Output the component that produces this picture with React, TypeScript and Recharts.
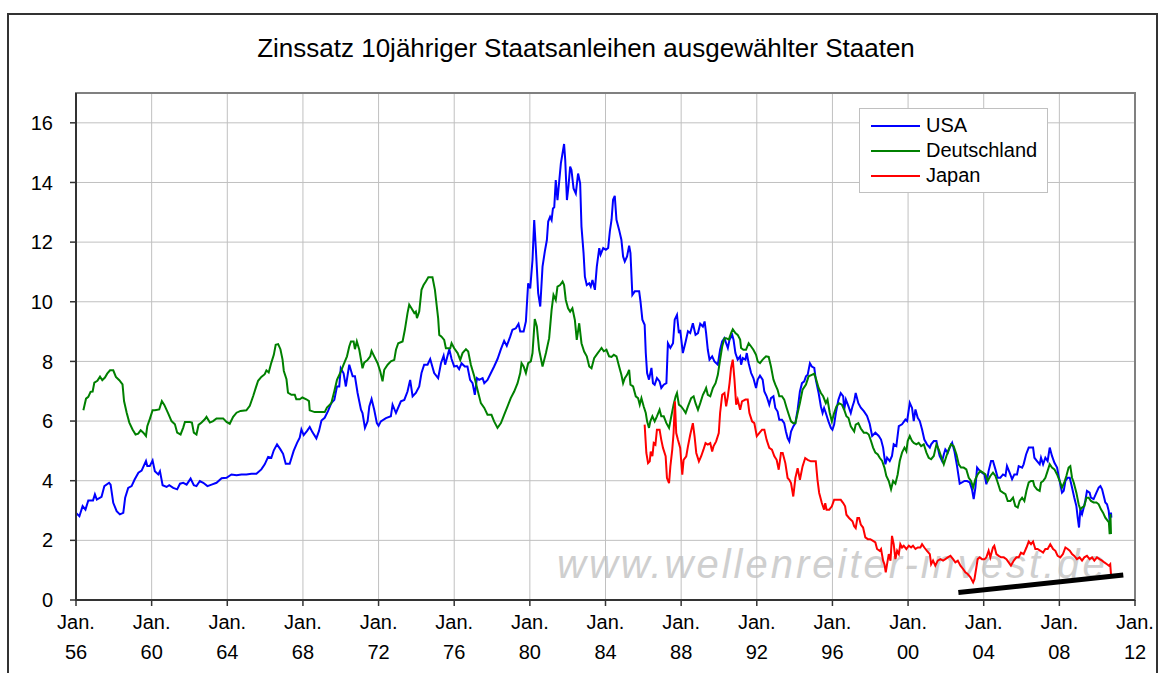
import React from 'react';
import { LineChart, Line, XAxis, YAxis, CartesianGrid, ReferenceArea } from 'recharts';

const TITLE = 'Zinssatz 10jähriger Staatsanleihen ausgewählter Staaten';
const WATERMARK = 'www.wellenreiter-invest.de';
const xTicks = [1956, 1960, 1964, 1968, 1972, 1976, 1980, 1984, 1988, 1992, 1996, 2000, 2004, 2008, 2012];
const yTicks = [0, 2, 4, 6, 8, 10, 12, 14, 16];
const seriesNames = ['USA', 'Deutschland', 'Japan'];
const seriesColors = ['#0000ff', '#008000', '#ff0000'];

const usaPoints: [number, number][] = [
  [1956.0, 2.92], [1956.18, 2.81], [1956.35, 3.15], [1956.5, 3.03], [1956.65, 3.34], [1956.9, 3.34], [1957.0, 3.54],
  [1957.1, 3.37], [1957.35, 3.46], [1957.5, 3.82], [1957.75, 3.93], [1957.83, 3.87], [1957.97, 3.26], [1958.15, 2.98],
  [1958.32, 2.87], [1958.5, 2.92], [1958.6, 3.43], [1958.76, 3.76], [1958.94, 3.82], [1959.1, 4.04], [1959.3, 4.27],
  [1959.47, 4.34], [1959.7, 4.66], [1959.77, 4.49], [1959.9, 4.49], [1960.05, 4.68], [1960.17, 4.32], [1960.35, 4.21],
  [1960.44, 4.32], [1960.58, 3.85], [1960.79, 3.79], [1960.93, 3.85], [1961.14, 3.76], [1961.35, 3.71], [1961.5, 3.9],
  [1961.67, 3.93], [1961.85, 3.87], [1962.06, 4.07], [1962.23, 3.85], [1962.37, 3.82], [1962.55, 3.99], [1962.73, 3.93],
  [1962.95, 3.82], [1963.17, 3.87], [1963.43, 3.93], [1963.7, 4.08], [1963.96, 4.1], [1964.22, 4.21], [1964.49, 4.18],
  [1964.75, 4.21], [1965.01, 4.21], [1965.28, 4.23], [1965.54, 4.23], [1965.8, 4.38], [1965.98, 4.55], [1966.16, 4.8],
  [1966.33, 4.77], [1966.46, 5.02], [1966.63, 5.22], [1966.81, 5.05], [1966.95, 4.9], [1967.09, 4.57], [1967.3, 4.57],
  [1967.51, 5.0], [1967.69, 5.27], [1967.83, 5.44], [1967.92, 5.72], [1968.04, 5.53], [1968.22, 5.67], [1968.36, 5.8],
  [1968.5, 5.63], [1968.71, 5.42], [1968.85, 5.67], [1968.98, 6.02], [1969.15, 6.11], [1969.33, 6.34], [1969.5, 6.6],
  [1969.66, 6.71], [1969.8, 7.16], [1969.92, 7.16], [1970.0, 7.77], [1970.15, 7.6], [1970.27, 7.16], [1970.45, 7.89],
  [1970.63, 7.5], [1970.75, 7.5], [1970.89, 6.94], [1971.07, 6.38], [1971.15, 6.27], [1971.28, 5.77], [1971.42, 5.99],
  [1971.51, 6.49], [1971.63, 6.74], [1971.77, 6.38], [1971.91, 5.93], [1972.0, 5.84], [1972.12, 5.99], [1972.39, 6.1],
  [1972.65, 6.16], [1972.74, 6.55], [1972.92, 6.27], [1973.18, 6.66], [1973.36, 6.71], [1973.53, 6.99], [1973.67, 7.38],
  [1973.8, 6.83], [1973.97, 6.94], [1974.15, 7.16], [1974.27, 7.61], [1974.41, 7.89], [1974.59, 7.89], [1974.73, 8.08],
  [1974.94, 7.61], [1975.15, 7.44], [1975.3, 7.94], [1975.44, 8.19], [1975.52, 7.89], [1975.74, 8.41], [1975.86, 8.08],
  [1976.0, 7.83], [1976.14, 7.85], [1976.26, 7.74], [1976.39, 7.94], [1976.56, 7.83], [1976.7, 7.83], [1976.84, 7.38],
  [1976.97, 7.27], [1977.09, 6.88], [1977.2, 7.44], [1977.32, 7.38], [1977.5, 7.44], [1977.59, 7.27], [1977.76, 7.38],
  [1977.94, 7.61], [1978.11, 7.83], [1978.29, 8.08], [1978.47, 8.41], [1978.64, 8.69], [1978.78, 8.52], [1978.96, 8.83],
  [1979.08, 9.06], [1979.26, 9.11], [1979.4, 9.26], [1979.49, 9.0], [1979.67, 9.0], [1979.79, 9.34], [1979.91, 10.62],
  [1980.02, 10.45], [1980.14, 11.4], [1980.23, 12.74], [1980.32, 11.74], [1980.44, 10.29], [1980.55, 9.84], [1980.67, 11.18],
  [1980.79, 11.68], [1980.9, 12.07], [1980.97, 12.69], [1981.07, 12.85], [1981.15, 12.74], [1981.22, 13.13], [1981.29, 13.17],
  [1981.37, 14.08], [1981.46, 13.41], [1981.64, 14.64], [1981.81, 15.29], [1981.87, 14.76], [1981.96, 13.41], [1982.04, 13.86],
  [1982.13, 14.53], [1982.2, 14.42], [1982.31, 13.8], [1982.43, 13.63], [1982.48, 13.91], [1982.55, 14.3], [1982.66, 13.97],
  [1982.73, 12.52], [1982.84, 11.63], [1982.91, 10.84], [1983.01, 10.56], [1983.14, 10.62], [1983.22, 10.51], [1983.31, 10.73],
  [1983.44, 10.4], [1983.54, 11.18], [1983.67, 11.8], [1983.74, 11.58], [1983.88, 11.8], [1984.02, 11.74], [1984.14, 11.8],
  [1984.23, 12.36], [1984.32, 12.75], [1984.4, 13.42], [1984.49, 13.55], [1984.58, 12.75], [1984.72, 12.41], [1984.84, 12.08],
  [1984.93, 11.52], [1985.02, 11.35], [1985.14, 11.52], [1985.25, 11.88], [1985.32, 11.63], [1985.42, 10.23], [1985.55, 10.35],
  [1985.78, 10.35], [1985.85, 10.01], [1985.95, 9.4], [1986.07, 9.23], [1986.13, 8.28], [1986.2, 7.61], [1986.3, 7.39],
  [1986.43, 7.78], [1986.51, 7.27], [1986.6, 7.22], [1986.72, 7.44], [1986.86, 7.33], [1986.95, 7.11], [1987.08, 7.22],
  [1987.22, 7.27], [1987.3, 8.61], [1987.43, 8.45], [1987.57, 8.61], [1987.66, 9.4], [1987.78, 9.56], [1987.88, 8.95],
  [1987.95, 9.06], [1988.09, 8.28], [1988.24, 8.67], [1988.36, 9.01], [1988.48, 8.95], [1988.62, 9.28], [1988.76, 8.89],
  [1988.89, 8.95], [1989.01, 9.26], [1989.15, 9.17], [1989.24, 9.34], [1989.32, 8.95], [1989.41, 8.39], [1989.5, 8.06],
  [1989.64, 8.17], [1989.76, 8.0], [1989.94, 7.89], [1990.06, 8.39], [1990.17, 8.67], [1990.29, 8.78], [1990.38, 8.61],
  [1990.47, 8.45], [1990.56, 8.73], [1990.7, 8.89], [1990.77, 8.73], [1990.87, 8.28], [1990.99, 8.06], [1991.12, 8.17],
  [1991.17, 7.89], [1991.26, 8.11], [1991.4, 8.06], [1991.47, 8.28], [1991.57, 7.94], [1991.7, 7.61], [1991.82, 7.44],
  [1991.96, 7.11], [1992.05, 7.39], [1992.17, 7.52], [1992.31, 7.39], [1992.4, 6.99], [1992.52, 6.83], [1992.66, 6.55],
  [1992.75, 6.77], [1992.88, 6.83], [1992.98, 6.44], [1993.1, 6.32], [1993.19, 6.04], [1993.33, 6.04], [1993.45, 5.93],
  [1993.54, 5.65], [1993.63, 5.43], [1993.72, 5.32], [1993.81, 5.65], [1993.93, 5.82], [1994.04, 5.93], [1994.16, 6.38],
  [1994.28, 6.99], [1994.39, 7.27], [1994.51, 7.33], [1994.6, 7.5], [1994.69, 7.55], [1994.81, 7.94], [1994.91, 7.83],
  [1995.04, 7.78], [1995.12, 7.39], [1995.27, 6.94], [1995.39, 6.49], [1995.48, 6.27], [1995.56, 6.44], [1995.65, 6.27],
  [1995.79, 5.99], [1995.92, 5.77], [1996.0, 5.71], [1996.09, 5.88], [1996.18, 6.27], [1996.32, 6.72], [1996.44, 6.94],
  [1996.57, 6.83], [1996.62, 6.38], [1996.71, 6.72], [1996.85, 6.49], [1996.97, 6.27], [1997.06, 6.49], [1997.15, 6.66],
  [1997.23, 6.94], [1997.37, 6.6], [1997.5, 6.45], [1997.66, 6.33], [1997.83, 6.17], [1997.97, 5.91], [1998.1, 5.5],
  [1998.27, 5.61], [1998.45, 5.5], [1998.57, 5.38], [1998.68, 5.11], [1998.8, 4.55], [1998.89, 4.77], [1999.03, 4.66],
  [1999.15, 4.83], [1999.24, 5.22], [1999.38, 5.16], [1999.51, 5.83], [1999.68, 5.89], [1999.86, 6.05], [1999.95, 6.0],
  [2000.09, 6.61], [2000.21, 6.44], [2000.3, 6.0], [2000.39, 6.39], [2000.51, 6.11], [2000.62, 6.0], [2000.74, 5.72],
  [2000.86, 5.38], [2001.0, 5.22], [2001.15, 5.11], [2001.22, 5.22], [2001.36, 5.33], [2001.5, 5.33], [2001.57, 5.11],
  [2001.67, 4.83], [2001.8, 4.66], [2001.89, 4.88], [2001.97, 5.05], [2002.1, 4.94], [2002.2, 5.11], [2002.33, 5.27],
  [2002.45, 4.99], [2002.59, 4.49], [2002.73, 3.9], [2002.85, 3.94], [2002.98, 3.99], [2003.12, 3.99], [2003.26, 3.94],
  [2003.38, 3.71], [2003.47, 3.38], [2003.56, 3.77], [2003.65, 4.44], [2003.79, 4.33], [2003.91, 4.27], [2004.04, 4.21],
  [2004.14, 3.88], [2004.26, 4.33], [2004.39, 4.66], [2004.49, 4.66], [2004.62, 4.38], [2004.74, 4.1], [2004.88, 4.1],
  [2005.02, 4.21], [2005.15, 4.16], [2005.23, 4.49], [2005.37, 4.27], [2005.5, 4.05], [2005.62, 4.21], [2005.76, 4.21],
  [2005.85, 4.49], [2006.03, 4.44], [2006.11, 4.55], [2006.24, 4.88], [2006.38, 5.11], [2006.5, 5.11], [2006.61, 5.11],
  [2006.68, 4.77], [2006.82, 4.66], [2006.96, 4.55], [2007.03, 4.77], [2007.14, 4.55], [2007.26, 4.77], [2007.38, 4.66],
  [2007.49, 5.11], [2007.61, 4.83], [2007.74, 4.6], [2007.88, 4.44], [2007.96, 4.16], [2008.05, 3.88], [2008.14, 3.6],
  [2008.23, 3.66], [2008.32, 3.99], [2008.44, 4.1], [2008.55, 4.1], [2008.67, 3.77], [2008.79, 3.43], [2008.9, 3.15],
  [2008.97, 2.76], [2009.04, 2.43], [2009.11, 3.04], [2009.2, 2.88], [2009.29, 3.1], [2009.37, 3.32], [2009.46, 3.66],
  [2009.6, 3.6], [2009.67, 3.43], [2009.81, 3.38], [2009.96, 3.6], [2010.08, 3.77], [2010.17, 3.82], [2010.26, 3.71],
  [2010.39, 3.38], [2010.43, 3.27], [2010.52, 3.21], [2010.61, 2.99], [2010.66, 2.65], [2010.73, 2.93], [2010.75, 2.76],
];

const germanyPoints: [number, number][] = [
  [1956.39, 6.36], [1956.53, 6.75], [1956.65, 6.81], [1956.77, 6.98], [1956.88, 6.99], [1956.97, 7.29], [1957.13, 7.35],
  [1957.27, 7.49], [1957.39, 7.37], [1957.53, 7.46], [1957.65, 7.59], [1957.8, 7.7], [1957.97, 7.7], [1958.11, 7.48],
  [1958.29, 7.37], [1958.46, 7.23], [1958.54, 6.67], [1958.68, 6.28], [1958.82, 5.95], [1958.99, 5.72], [1959.15, 5.55],
  [1959.29, 5.58], [1959.42, 5.69], [1959.56, 5.61], [1959.7, 5.5], [1959.77, 5.83], [1959.91, 6.08], [1960.05, 6.36],
  [1960.17, 6.36], [1960.4, 6.39], [1960.54, 6.67], [1960.67, 6.54], [1960.88, 6.25], [1961.05, 6.0], [1961.23, 5.89],
  [1961.35, 5.61], [1961.53, 5.55], [1961.67, 5.78], [1961.76, 5.97], [1962.02, 5.97], [1962.13, 5.95], [1962.23, 5.61],
  [1962.37, 5.55], [1962.48, 5.87], [1962.64, 5.95], [1962.81, 6.06], [1962.9, 6.14], [1963.08, 5.95], [1963.25, 6.0],
  [1963.43, 6.09], [1963.78, 6.09], [1963.96, 5.97], [1964.13, 5.91], [1964.31, 6.14], [1964.49, 6.28], [1964.7, 6.34],
  [1965.01, 6.36], [1965.19, 6.51], [1965.37, 6.84], [1965.51, 7.12], [1965.63, 7.35], [1965.8, 7.48], [1965.98, 7.57],
  [1966.07, 7.7], [1966.19, 7.63], [1966.33, 7.96], [1966.46, 8.22], [1966.56, 8.56], [1966.69, 8.58], [1966.81, 8.41],
  [1966.92, 8.07], [1966.99, 7.68], [1967.13, 7.4], [1967.21, 6.95], [1967.39, 6.88], [1967.57, 6.88], [1967.65, 6.73],
  [1967.83, 6.73], [1967.97, 6.79], [1968.18, 6.73], [1968.32, 6.67], [1968.36, 6.36], [1968.62, 6.3], [1968.89, 6.3],
  [1969.15, 6.3], [1969.27, 6.45], [1969.5, 6.6], [1969.66, 7.0], [1969.8, 7.38], [1969.97, 7.61], [1970.15, 7.89],
  [1970.33, 8.17], [1970.45, 8.5], [1970.54, 8.67], [1970.68, 8.67], [1970.75, 8.41], [1970.85, 8.67], [1970.98, 8.39],
  [1971.15, 7.77], [1971.24, 7.96], [1971.42, 8.05], [1971.56, 8.17], [1971.63, 8.35], [1971.77, 8.17], [1971.95, 7.94],
  [1972.09, 7.66], [1972.21, 7.33], [1972.3, 7.72], [1972.48, 7.89], [1972.65, 8.0], [1972.83, 8.05], [1972.92, 8.39],
  [1973.04, 8.61], [1973.27, 8.67], [1973.39, 9.06], [1973.53, 9.62], [1973.62, 9.9], [1973.74, 9.78], [1973.89, 9.62],
  [1973.97, 9.67], [1974.03, 9.45], [1974.15, 9.67], [1974.27, 10.4], [1974.38, 10.56], [1974.5, 10.68], [1974.63, 10.82],
  [1974.85, 10.82], [1974.98, 10.4], [1975.08, 9.84], [1975.15, 9.45], [1975.21, 8.89], [1975.33, 8.83], [1975.47, 8.72],
  [1975.56, 8.44], [1975.79, 8.44], [1975.86, 8.61], [1976.0, 8.44], [1976.18, 8.28], [1976.32, 8.05], [1976.44, 8.28],
  [1976.62, 8.41], [1976.74, 8.33], [1976.88, 7.89], [1977.06, 7.5], [1977.23, 7.05], [1977.41, 6.6], [1977.59, 6.44],
  [1977.76, 6.21], [1977.97, 6.21], [1978.11, 5.99], [1978.29, 5.77], [1978.47, 5.93], [1978.64, 6.21], [1978.82, 6.49],
  [1978.99, 6.77], [1979.17, 6.99], [1979.35, 7.27], [1979.49, 7.61], [1979.56, 7.94], [1979.67, 7.83], [1979.79, 7.61],
  [1979.91, 7.94], [1980.05, 8.0], [1980.14, 8.28], [1980.26, 9.42], [1980.37, 9.17], [1980.49, 8.39], [1980.67, 7.83],
  [1980.85, 8.28], [1981.02, 8.78], [1981.15, 9.73], [1981.25, 10.23], [1981.37, 10.06], [1981.46, 10.51], [1981.6, 10.56],
  [1981.73, 10.68], [1981.81, 10.56], [1981.9, 10.06], [1982.02, 9.78], [1982.13, 9.67], [1982.25, 9.78], [1982.38, 9.39],
  [1982.48, 8.72], [1982.61, 9.28], [1982.73, 8.61], [1982.87, 8.33], [1983.01, 8.17], [1983.14, 7.83], [1983.26, 7.77],
  [1983.4, 8.11], [1983.56, 8.25], [1983.72, 8.39], [1983.79, 8.45], [1983.91, 8.34], [1984.05, 8.39], [1984.19, 8.17],
  [1984.32, 8.15], [1984.44, 8.22], [1984.58, 8.17], [1984.72, 7.83], [1984.84, 7.55], [1984.93, 7.27], [1985.02, 7.44],
  [1985.14, 7.55], [1985.25, 7.72], [1985.32, 7.22], [1985.46, 7.16], [1985.6, 6.83], [1985.72, 6.77], [1985.81, 6.55],
  [1985.9, 6.77], [1986.02, 6.49], [1986.13, 6.27], [1986.2, 5.99], [1986.3, 5.77], [1986.37, 5.99], [1986.48, 6.16],
  [1986.6, 5.99], [1986.72, 6.16], [1986.86, 6.38], [1986.95, 6.16], [1987.08, 6.16], [1987.22, 5.93], [1987.36, 5.77],
  [1987.48, 6.16], [1987.6, 6.55], [1987.71, 6.83], [1987.78, 6.94], [1987.88, 6.55], [1988.0, 6.49], [1988.13, 6.38],
  [1988.24, 6.27], [1988.36, 6.49], [1988.53, 6.77], [1988.66, 6.83], [1988.76, 6.6], [1988.89, 6.38], [1989.01, 6.6],
  [1989.15, 6.88], [1989.24, 6.99], [1989.32, 7.11], [1989.41, 6.88], [1989.54, 6.83], [1989.68, 7.11], [1989.82, 7.27],
  [1989.94, 7.55], [1990.06, 8.06], [1990.17, 8.5], [1990.29, 8.78], [1990.38, 8.78], [1990.52, 8.73], [1990.64, 8.95],
  [1990.73, 9.08], [1990.87, 8.95], [1990.99, 8.89], [1991.12, 8.73], [1991.17, 8.45], [1991.29, 8.39], [1991.43, 8.39],
  [1991.57, 8.61], [1991.7, 8.5], [1991.82, 8.39], [1991.96, 8.22], [1992.05, 8.0], [1992.17, 7.94], [1992.31, 8.06],
  [1992.49, 8.17], [1992.63, 8.15], [1992.75, 7.83], [1992.88, 7.39], [1992.98, 7.22], [1993.1, 7.05], [1993.19, 6.83],
  [1993.33, 6.83], [1993.45, 6.72], [1993.58, 6.44], [1993.72, 6.16], [1993.81, 5.99], [1993.93, 5.93], [1994.04, 5.93],
  [1994.16, 6.27], [1994.28, 6.6], [1994.42, 7.05], [1994.6, 7.22], [1994.74, 7.5], [1994.91, 7.55], [1995.04, 7.59],
  [1995.12, 7.44], [1995.27, 7.11], [1995.39, 6.94], [1995.51, 6.83], [1995.65, 6.6], [1995.74, 6.72], [1995.86, 6.27],
  [1995.97, 5.99], [1996.09, 6.27], [1996.21, 6.49], [1996.35, 6.6], [1996.5, 6.55], [1996.62, 6.38], [1996.74, 6.16],
  [1996.85, 6.1], [1996.97, 5.82], [1997.15, 5.65], [1997.23, 5.88], [1997.37, 5.93], [1997.5, 5.75], [1997.66, 5.61],
  [1997.8, 5.61], [1997.92, 5.55], [1998.04, 5.33], [1998.15, 5.11], [1998.27, 4.94], [1998.4, 4.88], [1998.5, 4.77],
  [1998.63, 4.66], [1998.75, 4.44], [1998.85, 4.16], [1998.98, 3.99], [1999.1, 3.71], [1999.21, 3.99], [1999.33, 3.9],
  [1999.45, 4.21], [1999.56, 4.66], [1999.68, 4.94], [1999.81, 5.11], [1999.91, 4.99], [1999.98, 5.33], [2000.09, 5.5],
  [2000.21, 5.33], [2000.3, 5.27], [2000.44, 5.22], [2000.56, 5.27], [2000.69, 5.16], [2000.83, 5.22], [2000.97, 4.94],
  [2001.09, 4.77], [2001.22, 4.72], [2001.36, 4.83], [2001.5, 5.22], [2001.62, 5.05], [2001.74, 4.83], [2001.89, 4.55],
  [2002.03, 4.83], [2002.15, 5.05], [2002.27, 5.22], [2002.41, 5.16], [2002.56, 4.88], [2002.68, 4.55], [2002.8, 4.44],
  [2002.94, 4.44], [2003.08, 4.38], [2003.21, 4.1], [2003.33, 3.99], [2003.44, 3.77], [2003.56, 4.05], [2003.68, 4.21],
  [2003.82, 4.33], [2003.96, 4.27], [2004.09, 4.21], [2004.21, 3.99], [2004.35, 4.16], [2004.49, 4.27], [2004.62, 4.16],
  [2004.74, 3.94], [2004.88, 3.66], [2005.02, 3.6], [2005.15, 3.55], [2005.27, 3.32], [2005.41, 3.32], [2005.55, 3.43],
  [2005.67, 3.15], [2005.8, 3.1], [2005.9, 3.32], [2006.03, 3.43], [2006.15, 3.32], [2006.26, 3.66], [2006.38, 3.94],
  [2006.5, 3.99], [2006.61, 3.99], [2006.68, 3.82], [2006.82, 3.71], [2006.96, 3.66], [2007.03, 3.94], [2007.14, 3.99],
  [2007.26, 4.1], [2007.38, 4.33], [2007.49, 4.55], [2007.61, 4.44], [2007.74, 4.38], [2007.88, 4.21], [2008.02, 3.99],
  [2008.14, 3.77], [2008.26, 3.94], [2008.37, 4.16], [2008.49, 4.44], [2008.58, 4.49], [2008.67, 4.1], [2008.76, 3.94],
  [2008.9, 3.6], [2009.02, 3.21], [2009.11, 3.04], [2009.2, 3.1], [2009.32, 3.15], [2009.43, 3.43], [2009.55, 3.43],
  [2009.67, 3.32], [2009.81, 3.27], [2009.96, 3.27], [2010.08, 3.21], [2010.2, 3.04], [2010.31, 2.93], [2010.43, 2.76],
  [2010.56, 2.65], [2010.62, 2.6], [2010.66, 2.21], [2010.7, 2.88], [2010.73, 2.21],
];

const japanPoints: [number, number][] = [
  [1986.07, 5.88], [1986.16, 4.93], [1986.25, 4.59], [1986.34, 4.65], [1986.39, 4.98], [1986.48, 4.82], [1986.55, 5.26],
  [1986.64, 5.21], [1986.72, 5.71], [1986.86, 5.71], [1986.95, 5.37], [1987.04, 5.1], [1987.18, 4.82], [1987.25, 4.09],
  [1987.36, 3.92], [1987.43, 4.48], [1987.53, 5.04], [1987.6, 5.6], [1987.67, 6.66], [1987.74, 5.6], [1987.83, 5.37],
  [1987.95, 5.1], [1988.06, 4.2], [1988.13, 4.7], [1988.27, 4.82], [1988.36, 5.15], [1988.48, 5.54], [1988.62, 5.93],
  [1988.71, 5.49], [1988.8, 4.93], [1988.94, 4.65], [1989.06, 4.82], [1989.18, 5.04], [1989.29, 5.26], [1989.41, 5.21],
  [1989.54, 5.26], [1989.64, 4.98], [1989.71, 5.15], [1989.85, 5.32], [1989.99, 5.6], [1990.06, 6.27], [1990.17, 6.88],
  [1990.29, 6.94], [1990.38, 6.49], [1990.47, 6.83], [1990.56, 7.27], [1990.64, 7.78], [1990.73, 8.06], [1990.82, 7.39],
  [1990.91, 6.55], [1990.99, 6.72], [1991.12, 6.38], [1991.22, 6.66], [1991.4, 6.72], [1991.52, 6.72], [1991.61, 6.27],
  [1991.75, 5.99], [1991.87, 5.93], [1992.0, 5.49], [1992.14, 5.6], [1992.28, 5.71], [1992.4, 5.71], [1992.52, 5.37],
  [1992.66, 5.1], [1992.8, 5.04], [1992.93, 4.82], [1993.05, 4.7], [1993.16, 4.37], [1993.28, 4.93], [1993.37, 4.93],
  [1993.51, 4.59], [1993.63, 4.09], [1993.72, 4.03], [1993.81, 3.92], [1993.93, 3.47], [1994.04, 4.09], [1994.16, 4.42],
  [1994.28, 4.03], [1994.42, 4.48], [1994.56, 4.76], [1994.69, 4.7], [1994.86, 4.65], [1995.12, 4.65], [1995.21, 4.03],
  [1995.3, 3.59], [1995.44, 3.25], [1995.56, 3.03], [1995.62, 3.25], [1995.69, 3.03], [1995.83, 3.03], [1995.97, 3.14],
  [1996.09, 3.36], [1996.27, 3.36], [1996.44, 3.36], [1996.57, 3.25], [1996.67, 3.14], [1996.74, 2.86], [1996.88, 2.75],
  [1997.06, 2.64], [1997.15, 2.47], [1997.23, 2.41], [1997.32, 2.75], [1997.41, 2.75], [1997.5, 2.53], [1997.62, 2.43],
  [1997.74, 2.1], [1997.87, 2.04], [1998.0, 2.04], [1998.15, 1.98], [1998.27, 1.93], [1998.36, 1.71], [1998.5, 1.65],
  [1998.57, 1.71], [1998.68, 1.32], [1998.75, 1.2], [1998.82, 0.93], [1998.89, 1.2], [1998.98, 1.54], [1999.07, 1.32],
  [1999.15, 2.15], [1999.24, 1.87], [1999.33, 1.37], [1999.42, 1.65], [1999.51, 1.54], [1999.59, 1.87], [1999.68, 1.76],
  [1999.77, 1.82], [1999.91, 1.71], [2000.04, 1.82], [2000.16, 1.76], [2000.26, 1.82], [2000.39, 1.71], [2000.51, 1.76],
  [2000.65, 1.76], [2000.74, 1.87], [2000.86, 1.76], [2001.0, 1.65], [2001.15, 1.54], [2001.22, 1.2], [2001.32, 1.32],
  [2001.44, 1.15], [2001.57, 1.32], [2001.71, 1.37], [2001.85, 1.32], [2001.97, 1.37], [2002.1, 1.43], [2002.24, 1.48],
  [2002.38, 1.37], [2002.5, 1.26], [2002.63, 1.32], [2002.77, 1.15], [2002.91, 1.04], [2003.03, 0.93], [2003.15, 0.87],
  [2003.3, 0.76], [2003.44, 0.59], [2003.51, 0.7], [2003.61, 1.09], [2003.68, 1.37], [2003.79, 1.43], [2003.91, 1.37],
  [2004.04, 1.37], [2004.14, 1.43], [2004.26, 1.65], [2004.35, 1.43], [2004.49, 1.76], [2004.56, 1.82], [2004.67, 1.54],
  [2004.79, 1.48], [2004.92, 1.43], [2005.06, 1.43], [2005.2, 1.37], [2005.32, 1.26], [2005.44, 1.15], [2005.59, 1.32],
  [2005.73, 1.43], [2005.85, 1.43], [2005.97, 1.59], [2006.11, 1.54], [2006.26, 1.76], [2006.38, 1.96], [2006.5, 1.87],
  [2006.61, 1.96], [2006.73, 1.71], [2006.85, 1.71], [2007.0, 1.65], [2007.14, 1.59], [2007.26, 1.71], [2007.38, 1.71],
  [2007.52, 1.87], [2007.67, 1.71], [2007.79, 1.65], [2007.91, 1.48], [2008.05, 1.43], [2008.19, 1.54], [2008.32, 1.76],
  [2008.44, 1.71], [2008.55, 1.65], [2008.67, 1.54], [2008.79, 1.48], [2008.93, 1.37], [2009.07, 1.43], [2009.2, 1.32],
  [2009.32, 1.43], [2009.46, 1.48], [2009.6, 1.37], [2009.73, 1.43], [2009.85, 1.32], [2009.99, 1.43], [2010.13, 1.37],
  [2010.26, 1.32], [2010.38, 1.26], [2010.52, 1.2], [2010.62, 1.15], [2010.69, 1.2], [2010.73, 0.87],
];

const trendPoints: [number, number][] = [[2002.66, 0.25], [2011.38, 0.84]];

const toData = (pts: [number, number][]) => pts.map(([t, v]) => ({ t, v }));
const seriesData = [toData(usaPoints), toData(germanyPoints), toData(japanPoints)];
const trendData = toData(trendPoints);

const FONT = '"Liberation Sans", Arial, sans-serif';

const XTick = (props: any) => {
  const { x, y, payload } = props;
  const yy = String(payload.value).slice(2);
  return (
    <g>
      <text x={x} y={y} textAnchor="middle" fontFamily={FONT} fontSize={20} fill="#000">
        <tspan x={x} dy={21}>Jan.</tspan>
        <tspan x={x} dy={30}>{yy}</tspan>
      </text>
    </g>
  );
};

export default function App() {
  return (
    <div style={{ position: 'absolute', left: 0, top: 0, width: 1161, height: 673, background: '#fff', overflow: 'hidden', fontFamily: FONT }}>
      <svg width={1161} height={673} style={{ position: 'absolute', left: 0, top: 0 }}>
        <rect x={8} y={14} width={1149} height={700} fill="#fff" stroke="#333" strokeWidth={2} />
        <text x={586} y={57} textAnchor="middle" fontFamily={FONT} fontSize={26} fill="#000">{TITLE}</text>
        <text x={557} y={578} fontFamily={FONT} fontSize={40} fontStyle="italic" letterSpacing={3} fill="#cfcfcf">{WATERMARK}</text>
      </svg>
      <div style={{ position: 'absolute', left: 0, top: 0 }}>
        <LineChart width={1161} height={673} margin={{ top: 93, right: 26, bottom: 43, left: 16 }}>
          <CartesianGrid stroke="#c0c0c0" strokeWidth={1} verticalPoints={undefined} />
          <ReferenceArea x1={1956} x2={2012} y1={0} y2={17} fill="none" stroke="#808080" strokeWidth={2} ifOverflow="visible" />
          <XAxis
            type="number"
            dataKey="t"
            domain={[1956, 2012]}
            ticks={xTicks}
            interval={0}
            allowDataOverflow
            height={30}
            tickSize={6}
            axisLine={{ stroke: '#333', strokeWidth: 2 }}
            tickLine={{ stroke: '#333', strokeWidth: 1.5 }}
            tick={<XTick />}
          />
          <YAxis
            type="number"
            domain={[0, 17]}
            ticks={yTicks}
            interval={0}
            width={60}
            tickSize={6}
            tickMargin={17}
            axisLine={{ stroke: '#333', strokeWidth: 2 }}
            tickLine={{ stroke: '#333', strokeWidth: 1.5 }}
            tick={{ fill: '#000', fontSize: 20, fontFamily: FONT }}
          />
          {seriesNames.map((name, i) => (
            <Line
              key={name}
              data={seriesData[i]}
              dataKey="v"
              name={name}
              type="linear"
              stroke={seriesColors[i]}
              strokeWidth={2}
              dot={false}
              activeDot={false}
              isAnimationActive={false}
            />
          ))}
          <Line data={trendData} dataKey="v" name="Trend" type="linear" stroke="#000" strokeWidth={5} dot={false} activeDot={false} isAnimationActive={false} legendType="none" />
        </LineChart>
      </div>
      <div style={{ position: 'absolute', left: 859, top: 108, width: 189, height: 85, border: '1px solid #c0c0c0', background: '#fff', boxSizing: 'border-box' }}>
        {seriesNames.map((name, i) => (
          <div key={name} style={{ position: 'absolute', left: 11, top: 4 + i * 25, height: 25, display: 'flex', alignItems: 'center' }}>
            <div style={{ width: 49, height: 2, background: seriesColors[i] }} />
            <span style={{ marginLeft: 6, fontSize: 20, fontFamily: FONT, color: '#000', lineHeight: '25px' }}>{name}</span>
          </div>
        ))}
      </div>
    </div>
  );
}
